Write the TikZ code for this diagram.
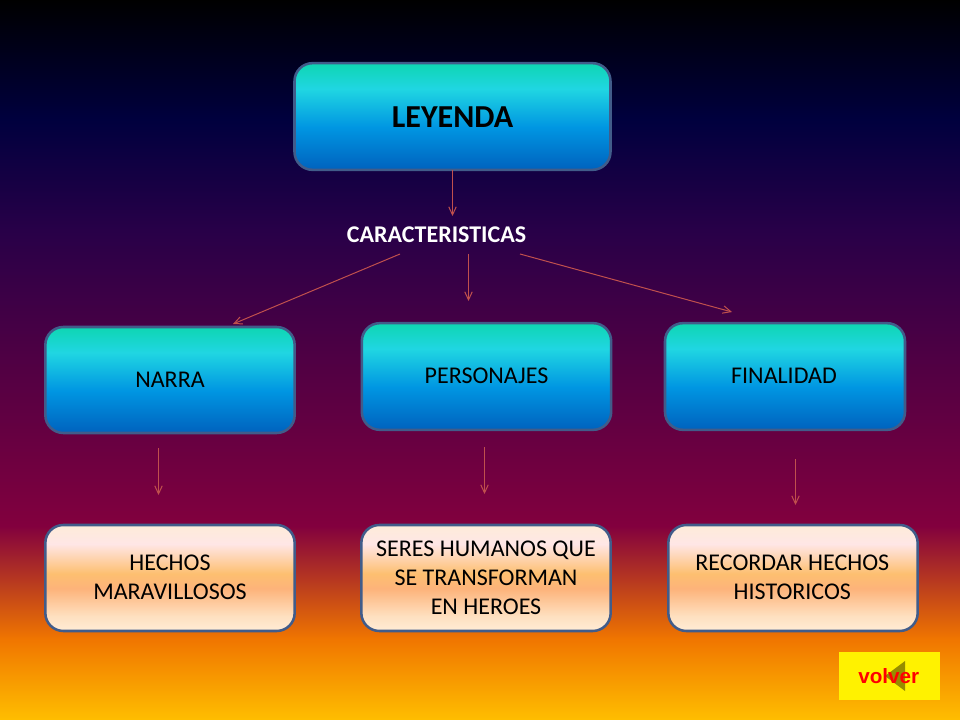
\documentclass[tikz,border=0pt]{standalone}
\usepackage{fontspec}
\setmainfont{Carlito}
\newfontfamily\arialf{Liberation Sans}
\usetikzlibrary{arrows.meta}
\definecolor{bgA}{RGB}{0,0,0}
\definecolor{bgB}{RGB}{0,0,62}
\definecolor{bgC}{RGB}{40,0,72}
\definecolor{bgD}{RGB}{130,0,62}
\definecolor{bgE}{RGB}{240,118,0}
\definecolor{bgF}{RGB}{255,190,0}
\definecolor{tA}{RGB}{14,214,178}
\definecolor{tB}{RGB}{32,214,226}
\definecolor{tC}{RGB}{0,150,226}
\definecolor{tD}{RGB}{0,98,190}
\definecolor{pA}{RGB}{253,236,217}
\definecolor{pB}{RGB}{255,230,230}
\definecolor{pC}{RGB}{253,191,112}
\definecolor{pD}{RGB}{253,179,122}
\definecolor{pE}{RGB}{254,224,192}
\definecolor{pF}{RGB}{255,236,214}
\definecolor{edgeblue}{RGB}{65,92,138}
\definecolor{linkred}{RGB}{192,80,77}
\newcommand{\nudgey}[2]{\raisebox{#1}[\height][\depth]{#2}}
\pgfdeclareverticalshading{bgshade}{100bp}{color(0bp)=(bgF);color(25bp)=(bgF);color(30.6bp)=(bgE);color(38.5bp)=(bgD);color(59bp)=(bgC);color(66.7bp)=(bgB);color(75bp)=(bgA);color(100bp)=(bgA)}
\pgfdeclareverticalshading{tealshade}{100bp}{color(0bp)=(tD);color(25bp)=(tD);color(45bp)=(tC);color(63bp)=(tB);color(75bp)=(tA);color(100bp)=(tA)}
\pgfdeclareverticalshading{peachshade}{100bp}{color(0bp)=(pF);color(25bp)=(pF);color(32bp)=(pE);color(45bp)=(pD);color(52bp)=(pC);color(66bp)=(pB);color(75bp)=(pA);color(100bp)=(pA)}
\tikzset{
  x=0.75pt,y=-0.75pt,
  boxbase/.style={rounded corners=13.5pt,draw=edgeblue,line width=1.9pt,inner sep=0pt,align=center,text=black,font=\fontsize{18}{21.6}\selectfont},
  tealbox/.style={boxbase,shading=tealshade},
  peachbox/.style={boxbase,shading=peachshade},
  link/.style={draw=linkred,line width=0.75pt,-{Straight Barb[length=6pt,width=9pt,angle'=50]}},
}
\begin{document}
\begin{tikzpicture}
\useasboundingbox (0,0) rectangle (960,720);
\shade[shading=bgshade] (0,0) rectangle (960,720);

\node[tealbox,minimum width=237pt,minimum height=80pt,font=\fontsize{24}{28}\selectfont\bfseries] (leyenda) at (452.5,116.5) {\nudgey{-0.75pt}{LEYENDA}};
\node[inner sep=0pt,text=white,font=\fontsize{18}{20}\selectfont\bfseries] (carac) at (436.5,234.5) {CARACTERISTICAS};

\node[tealbox,minimum width=187pt,minimum height=79.5pt] (narra) at (170,380) {NARRA};
\node[tealbox,minimum width=187pt,minimum height=80pt] (pers) at (486.5,376.5) {\nudgey{0.75pt}{PERSONAJES}};
\node[tealbox,minimum width=180pt,minimum height=80pt] (final) at (785,376.5) {\hspace*{-1.5pt}\nudgey{0.75pt}{FINALIDAD}};

\node[peachbox,minimum width=187pt,minimum height=79.5pt] (hechos) at (170,578) {\nudgey{0.5pt}{HECHOS}\\\nudgey{0.5pt}{MARAVILLOSOS}};
\node[peachbox,minimum width=187pt,minimum height=79.5pt] (seres) at (486,578) {SERES HUMANOS QUE\\SE TRANSFORMAN\\EN HEROES};
\node[peachbox,minimum width=187pt,minimum height=79.5pt] (recordar) at (793,578) {\hspace*{-1pt}\nudgey{0.5pt}{RECORDAR HECHOS}\\\hspace*{-1pt}\nudgey{0.5pt}{HISTORICOS}};

\coordinate (a0s) at (452.5,170);
\coordinate (a0e) at (452.5,216);
\coordinate (a1s) at (400,254);
\coordinate (a1e) at (233,324);
\coordinate (a2s) at (468.5,254);
\coordinate (a2e) at (468.5,301);
\coordinate (a3s) at (520,254);
\coordinate (a3e) at (732,312);
\coordinate (a4s) at (158.5,448);
\coordinate (a4e) at (158.5,495);
\coordinate (a5s) at (484.5,447);
\coordinate (a5e) at (484.5,494);
\coordinate (a6s) at (795.5,459);
\coordinate (a6e) at (795.5,505);
\draw[link] (a0s) -- (a0e);
\draw[link] (a1s) -- (a1e);
\draw[link] (a2s) -- (a2e);
\draw[link] (a3s) -- (a3e);
\draw[link] (a4s) -- (a4e);
\draw[link] (a5s) -- (a5e);
\draw[link] (a6s) -- (a6e);

\node[fill=yellow,inner sep=0pt,minimum width=75.75pt,minimum height=36pt] (volverbox) at (889.5,676) {};
\fill[fill={rgb,255:red,150;green,140;blue,0}] (905,661) -- (905,691) -- (885,676) -- cycle;
\node[inner sep=0pt,text=red,font=\arialf\fontsize{15.5}{17}\selectfont\bfseries] (volver) at (888.7,676) {volver};
\end{tikzpicture}
\end{document}
